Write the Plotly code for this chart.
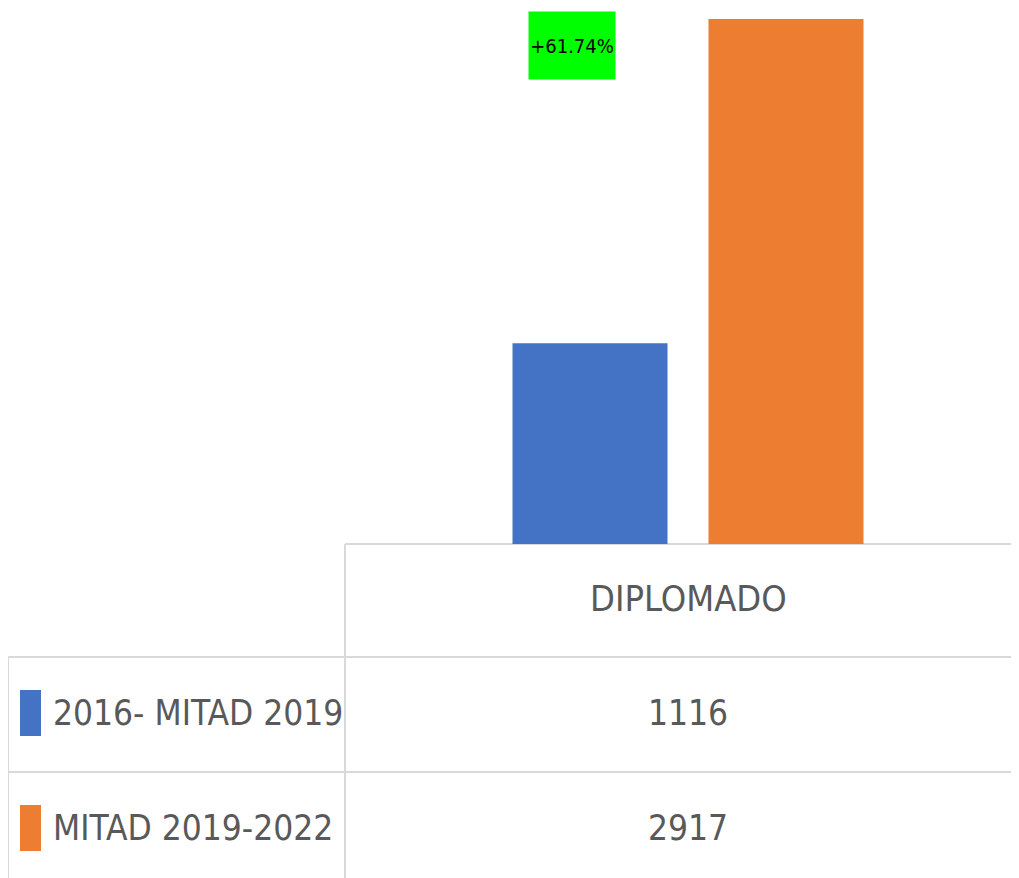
import plotly.graph_objects as go

# ---- data ----
categories = ["DIPLOMADO"]
series_names = ["2016- MITAD 2019", "MITAD 2019-2022"]
values_2016_2019 = [1116]
values_2019_2022 = [2917]
change_label = "+61.74%"

series_values = [values_2016_2019, values_2019_2022]
colors = ["#4472C4", "#ED7D31"]

OFF = 8                     # page body margin
W, H = 1019 - OFF, 878 - OFF
L = 345 - OFF               # plot area left (figure px)
PLOT_H = 536                # plot area height (figure px)
B = H - PLOT_H
PW = W - L

def px(x):  # window px -> paper
    return (x - OFF - L) / PW

def py(y):  # window px -> paper
    return (PLOT_H - (y - OFF)) / PLOT_H

FONT = "Liberation Sans Narrow, Arial Narrow, DejaVu Sans Condensed, sans-serif"
TXT = "#595959"
GRID = "#D9D9D9"

fig = go.Figure()
for name, vals, col in zip(series_names, series_values, colors):
    fig.add_trace(go.Bar(x=categories, y=vals, name=name, marker_color=col,
                         marker_line_width=0, showlegend=False, hoverinfo="skip"))

fig.update_layout(
    width=W, height=H,
    margin=dict(l=L, r=0, t=0, b=B, pad=0),
    paper_bgcolor="white", plot_bgcolor="white",
    barmode="group", bargap=0.4286, bargroupgap=0.209,
    xaxis=dict(range=[-0.5, 0.4825], showticklabels=False, showgrid=False,
               zeroline=False, showline=False, ticks=""),
    yaxis=dict(range=[0, 2978.2], showticklabels=False, showgrid=False,
               zeroline=False, showline=False, ticks=""),
    font=dict(family=FONT, color=TXT),
)

# table grid lines (window px)
lines = [
    (345, 544, 1019, 544),
    (8, 657, 1019, 657),
    (8, 772, 1019, 772),
    (345, 544, 345, 878),
    (8, 657, 8, 878),
]
for x0, y0, x1, y1 in lines:
    fig.add_shape(type="line", xref="paper", yref="paper",
                  x0=px(x0), y0=py(y0), x1=px(x1), y1=py(y1),
                  line=dict(color=GRID, width=2), layer="below")

FS = 35
row_y = [713, 828]
for (name, col, ry) in zip(series_names, colors, row_y):
    fig.add_shape(type="rect", xref="paper", yref="paper",
                  x0=px(20), x1=px(41), y0=py(ry - 23), y1=py(ry + 23),
                  fillcolor=col, line_width=0)
    fig.add_annotation(xref="paper", yref="paper", x=px(51), y=py(ry),
                       text=name, showarrow=False, xanchor="left", yanchor="middle",
                       font=dict(size=FS, color=TXT, family=FONT))

# column header
fig.add_annotation(xref="paper", yref="paper", x=px(688), y=py(598),
                   text=categories[0], showarrow=False, xanchor="center", yanchor="middle",
                   font=dict(size=36, color=TXT, family=FONT))
# values
for vals, ry in zip(series_values, row_y):
    fig.add_annotation(xref="paper", yref="paper", x=px(688), y=py(ry),
                       text=str(vals[0]), showarrow=False, xanchor="center", yanchor="middle",
                       font=dict(size=FS, color=TXT, family=FONT))

# change label
fig.add_annotation(xref="paper", yref="paper", x=px(572), y=py(45.5),
                   text=change_label, showarrow=False, xanchor="center", yanchor="middle",
                   width=86, height=67, bgcolor="#00FF00", borderpad=0,
                   font=dict(size=20, color="black", family=FONT))

fig.write_html("out.html")
